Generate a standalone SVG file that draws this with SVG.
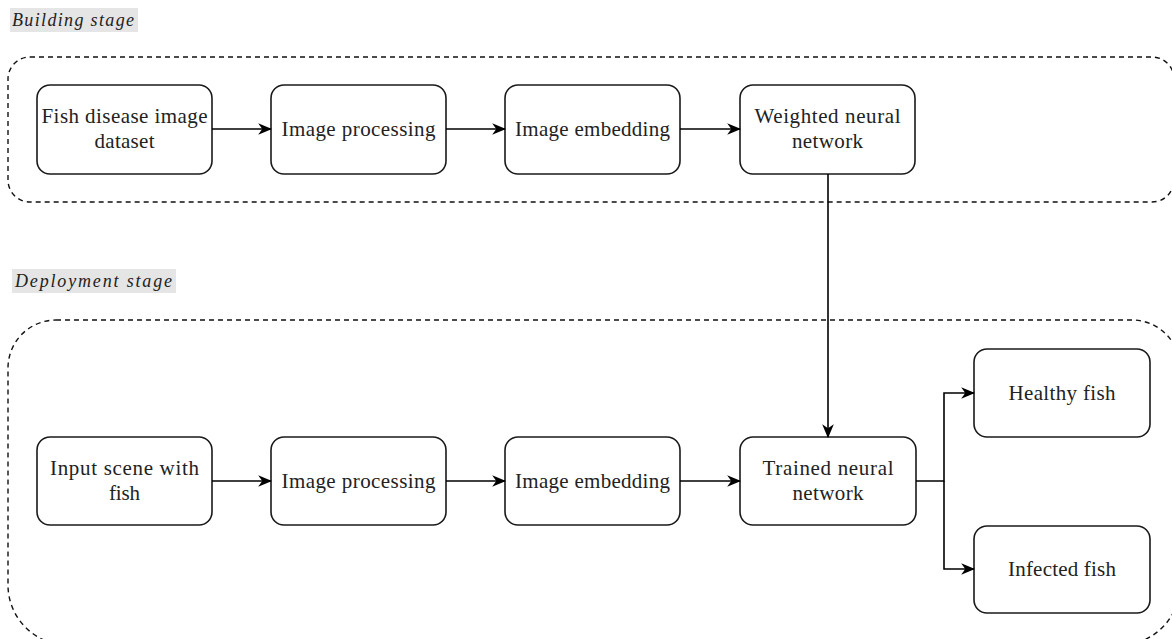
<svg xmlns="http://www.w3.org/2000/svg" width="1172" height="639" viewBox="0 0 1172 639">
<style>
.node{fill:#fff;stroke:#1a1a1a;stroke-width:1.6}
.t{font-family:'Liberation Serif','Times New Roman',serif;font-size:21px;fill:#222;text-anchor:middle}
.lbl{font-family:'Liberation Serif','Times New Roman',serif;font-size:18px;font-style:italic;fill:#222}
.cont{fill:none;stroke:#111;stroke-width:1.4;stroke-dasharray:5,4}
.c{fill:none;stroke:#000;stroke-width:1.6}
</style>
<defs>
<marker id="ah" viewBox="0 0 12 10" refX="11" refY="5" markerWidth="14" markerHeight="12" markerUnits="userSpaceOnUse" orient="auto">
<path d="M0,0 L12,5 L0,10 L3.5,5 z" fill="#000"/>
</marker>
</defs>
<rect width="1172" height="639" fill="#fff"/>
<g id="label-building"><rect x="10" y="8" width="128" height="24" fill="#e5e5e5"/><text class="lbl" x="12" y="26" textLength="122">Building stage</text></g>
<g id="label-deployment"><rect x="12" y="269" width="164" height="24" fill="#e5e5e5"/><text class="lbl" x="15" y="287" textLength="157">Deployment stage</text></g>
<g id="building-stage"><rect class="cont" x="8" y="57" width="1166" height="145" rx="22"/></g>
<g id="deployment-stage"><path class="cont" d="M56,320 H1132 A48,48 0 0 1 1180,368 V585 A60,60 0 0 1 1120,645 H68 A60,60 0 0 1 8,585 V368 A48,48 0 0 1 56,320 Z"/></g>
<g id="n1"><rect class="node" x="37" y="85" width="175" height="89" rx="13"/><text class="t" x="124.5" y="123" textLength="166">Fish disease image</text><text class="t" x="124.5" y="148" textLength="60">dataset</text></g>
<g id="n2"><rect class="node" x="271" y="85" width="175" height="89" rx="13"/><text class="t" x="358.5" y="136" textLength="154">Image processing</text></g>
<g id="n3"><rect class="node" x="505" y="85" width="175" height="89" rx="13"/><text class="t" x="592.5" y="136" textLength="155">Image embedding</text></g>
<g id="n4"><rect class="node" x="740" y="85" width="175" height="89" rx="13"/><text class="t" x="827.5" y="123" textLength="146">Weighted neural</text><text class="t" x="827.5" y="148" textLength="71">network</text></g>
<g id="m1"><rect class="node" x="37" y="437" width="175" height="88" rx="13"/><text class="t" x="124.5" y="475" textLength="149">Input scene with</text><text class="t" x="124.5" y="500" textLength="31">fish</text></g>
<g id="m2"><rect class="node" x="271" y="437" width="175" height="88" rx="13"/><text class="t" x="358.5" y="488" textLength="154">Image processing</text></g>
<g id="m3"><rect class="node" x="505" y="437" width="175" height="88" rx="13"/><text class="t" x="592.5" y="488" textLength="155">Image embedding</text></g>
<g id="m4"><rect class="node" x="740" y="437" width="176" height="88" rx="13"/><text class="t" x="828" y="475" textLength="131">Trained neural</text><text class="t" x="828" y="500" textLength="71">network</text></g>
<g id="o1"><rect class="node" x="974" y="349" width="176" height="88" rx="13"/><text class="t" x="1062" y="400" textLength="107">Healthy fish</text></g>
<g id="o2"><rect class="node" x="974" y="526" width="176" height="87" rx="13"/><text class="t" x="1062" y="576" textLength="108">Infected fish</text></g>
<g id="connectors">
<path class="c" d="M212,129 H271" marker-end="url(#ah)"/>
<path class="c" d="M446,129 H505" marker-end="url(#ah)"/>
<path class="c" d="M680,129 H740" marker-end="url(#ah)"/>
<path class="c" d="M828,174 V437" marker-end="url(#ah)"/>
<path class="c" d="M212,481 H271" marker-end="url(#ah)"/>
<path class="c" d="M446,481 H505" marker-end="url(#ah)"/>
<path class="c" d="M680,481 H740" marker-end="url(#ah)"/>
<path class="c" d="M916,481 H944 V393 H974" marker-end="url(#ah)"/>
<path class="c" d="M944,481 V569 H974" marker-end="url(#ah)"/>
</g>
</svg>
